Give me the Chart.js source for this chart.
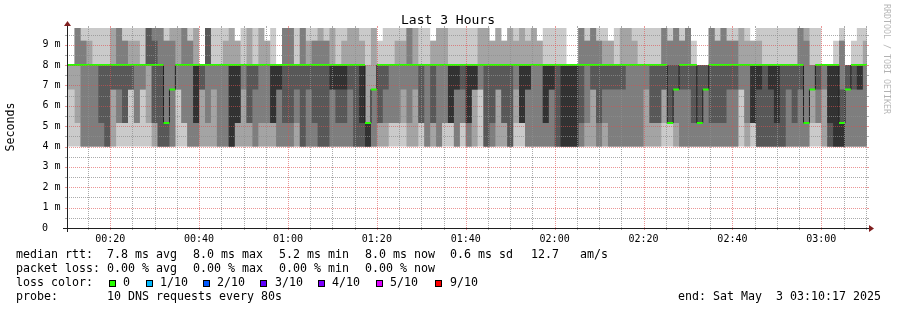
<!DOCTYPE html>
<html>
<head>
<meta charset="utf-8">
<script src="https://cdn.jsdelivr.net/npm/chart.js@4.4.1/dist/chart.umd.min.js"></script>
<style>
  html, body { margin: 0; padding: 0; background: #fff; }
  canvas { display: block; }
</style>
</head>
<body>
<canvas id="smoke" width="897" height="310"></canvas>
<script>
// Ping-Werte, die der DNS-Probe geliefert hat (ms)
const pingLevels = [4.0, 5.15, 6.8, 8.0, 9.2, 9.82];

// pro 80s-Schritt: wie viele der 10 Pings auf welcher Stufe liegen (gleiche Reihenfolge wie pingLevels)
const pingCounts = [
    [1,0,1,8,0,0], [1,0,1,8,0,0], [1,1,0,5,0,3], [3,0,0,4,2,1], [3,0,0,5,1,1],
    [3,0,0,6,0,1], [3,1,0,5,0,1], [4,0,0,5,0,1], [2,0,2,4,0,2], [1,2,1,3,0,3],
    [1,3,0,3,2,1], [1,0,3,4,1,1], [1,2,0,5,1,1], [1,0,2,6,0,1], [1,1,0,4,0,4],
    [2,2,0,2,1,3], [4,0,0,3,0,3], [4,3,0,0,2,1], [3,0,4,0,1,2], [1,0,2,5,0,2],
    [1,2,0,4,0,3], [3,0,0,4,2,1], [3,2,0,3,0,2], [2,0,2,6,0,0], [2,1,0,3,0,4],
    [2,0,1,6,0,1], [3,0,0,6,0,1], [3,0,0,5,1,1], [5,0,0,3,0,2], [2,3,0,3,2,0],
    [2,0,1,6,0,1], [2,2,0,4,0,2], [3,0,1,5,0,1], [2,1,0,5,0,2], [2,1,0,5,2,0],
    [2,3,0,4,0,1], [3,0,2,5,0,0], [3,1,0,3,0,3], [3,1,0,3,0,3], [2,1,1,5,0,1],
    [4,0,0,3,0,3], [3,0,1,4,1,1], [3,1,0,3,2,1], [4,0,0,3,1,2], [4,0,0,3,2,1],
    [3,0,2,3,0,2], [3,1,1,4,0,1], [3,1,1,3,1,1], [3,0,1,4,0,2], [4,0,0,4,0,2],
    [4,1,0,3,1,1], [5,3,0,1,0,1], [3,0,5,0,0,2], [2,2,0,5,1,0], [2,1,1,5,0,1],
    [1,2,0,6,0,1], [1,2,0,5,1,1], [1,1,1,5,1,1], [2,1,0,4,0,3], [2,0,1,5,0,2],
    [1,3,0,5,0,1], [3,0,0,6,0,1], [2,2,0,4,2,0], [3,0,0,5,0,2], [1,2,0,5,0,2],
    [1,4,0,4,0,1], [3,0,2,4,0,1], [1,2,1,5,0,1], [3,2,0,4,0,1], [2,0,3,4,0,1],
    [1,0,2,5,0,2], [4,0,0,4,0,2], [3,1,0,4,2,0], [2,0,2,4,0,2], [2,2,0,4,2,0],
    [4,0,0,4,0,2], [1,1,1,5,1,1], [1,4,0,3,0,2], [3,0,2,3,1,1], [3,0,0,5,0,2],
    [3,0,0,5,2,0], [3,2,0,4,0,1], [3,0,2,4,0,1], [4,0,0,5,0,1], [5,0,0,4,0,1],
    [5,0,0,5,0,0], [5,0,0,5,0,0], [3,1,0,3,0,3], [2,1,0,4,2,1], [2,0,2,3,0,3],
    [3,1,0,3,2,1], [2,1,1,4,1,1], [3,0,1,4,2,0], [3,0,1,5,0,1], [3,0,1,4,0,2],
    [3,0,0,5,0,2], [3,0,0,5,1,1], [3,0,0,6,0,1], [2,0,1,6,0,1], [2,2,0,5,0,1],
    [2,2,0,5,0,1], [1,1,2,3,0,3], [1,5,0,1,2,1], [2,1,3,1,0,3], [3,0,1,3,2,1],
    [3,0,1,3,0,3], [3,1,0,5,1,0], [3,3,0,4,0,0], [3,0,3,4,0,0], [3,1,0,3,0,3],
    [3,1,0,3,2,1], [3,1,0,3,0,3], [3,0,1,3,2,1], [3,0,1,3,2,1], [1,0,2,5,0,2],
    [2,1,0,5,1,1], [1,4,0,3,2,0], [4,0,1,3,1,1], [4,0,0,5,0,1], [4,0,1,4,0,1],
    [4,1,0,4,0,1], [4,0,0,5,0,1], [3,0,1,5,0,1], [3,1,0,5,0,1], [3,0,1,3,0,3],
    [3,4,0,0,1,2], [1,1,5,2,0,1], [1,2,1,5,0,1], [2,0,1,7,0,0], [4,1,0,5,0,0],
    [5,0,0,4,1,0], [5,1,1,0,2,1], [3,0,3,4,0,0], [3,0,1,5,1,0], [3,0,2,4,0,1],
    [3,0,0,5,1,1]
];

// Median pro Schritt (ms)
const medianMs = [
    8, 8, 8, 8, 8, 8, 8, 8, 8, 8,
    8, 8, 8, 8, 8, 8, 8, 5.15, 6.8, 8,
    8, 8, 8, 8, 8, 8, 8, 8, 8, 8,
    8, 8, 8, 8, 8, 8, 8, 8, 8, 8,
    8, 8, 8, 8, 8, 8, 8, 8, 8, 8,
    8, 5.15, 6.8, 8, 8, 8, 8, 8, 8, 8,
    8, 8, 8, 8, 8, 8, 8, 8, 8, 8,
    8, 8, 8, 8, 8, 8, 8, 8, 8, 8,
    8, 8, 8, 8, 8, 8, 8, 8, 8, 8,
    8, 8, 8, 8, 8, 8, 8, 8, 8, 8,
    8, 8, 5.15, 6.8, 8, 8, 8, 5.15, 6.8, 8,
    8, 8, 8, 8, 8, 8, 8, 8, 8, 8,
    8, 8, 8, 8, 8, 5.15, 6.8, 8, 8, 8,
    8, 5.15, 6.8, 8, 8, 8
];

// Zeitachse in Sekunden seit Mitternacht (00:10:17 bis 03:10:17)
const startSec = 617;
const endSec = 11417;
const stepSec = 80;
const firstStepEnd = 640;
const yMaxMs = 9.82;

const xLabelTimes = [1200, 2400, 3600, 4800, 6000, 7200, 8400, 9600, 10800];
const xLabels = ['00:20', '00:40', '01:00', '01:20', '01:40', '02:00', '02:20', '02:40', '03:00'];
const yLabelValues = [0, 1, 2, 3, 4, 5, 6, 7, 8, 9];
const yLabels = ['0', '1 m', '2 m', '3 m', '4 m', '5 m', '6 m', '7 m', '8 m', '9 m'];

const lossLabels = ['0', '1/10', '2/10', '3/10', '4/10', '5/10', '9/10'];
const lossColors = ['#26ff00', '#00b8ff', '#0059ff', '#5e00ff', '#7e00ff', '#dd00ff', '#ff0000'];

const rttStats = ['7.8 ms avg', '8.0 ms max', '5.2 ms min', '8.0 ms now', '0.6 ms sd', '12.7   am/s'];
const lossStats = ['0.00 % avg', '0.00 % max', '0.00 % min', '0.00 % now'];

const shades = ['#cacaca', '#a4a4a4', '#7e7e7e', '#585858', '#323232'];
const mono = '"DejaVu Sans Mono", monospace';

// Sortierte Pings je Schritt aufbauen
const stepEnds = pingCounts.map((_, i) => firstStepEnd + i * stepSec);
const sortedPings = pingCounts.map(counts => {
    const row = [];
    counts.forEach((n, lvl) => {
        for (let q = 0; q < n; q++) row.push(pingLevels[lvl]);
    });
    return row;
});

// RRD-Wert gilt für (ende-80s, ende] -> Punkt am Schrittanfang, Stufe "before"
function steppedPoints(values) {
    const pts = values.map((v, i) => ({ x: stepEnds[i] - stepSec, y: v }));
    pts.push({ x: stepEnds[stepEnds.length - 1], y: values[values.length - 1] });
    return pts;
}

const datasets = [];
for (let j = 0; j < 10; j++) {
    const isBand = j < 5;
    datasets.push({
        data: steppedPoints(sortedPings.map(r => r[j])),
        stepped: 'before',
        borderWidth: 0,
        pointRadius: 0,
        fill: isBand ? 9 - j : false,
        backgroundColor: isBand ? shades[j] : 'transparent',
        order: isBand ? 20 - j : 30
    });
}

// Median: dunkle Linie (inkl. Sprünge) + grüner Streifen (Verlust 0)
const swidth = yMaxMs / 200;
datasets.push({
    data: steppedPoints(medianMs),
    stepped: 'before', borderColor: '#202020', borderWidth: 1, pointRadius: 0, fill: false, order: 3
});
datasets.push({
    data: steppedPoints(medianMs.map(v => v - swidth)),
    stepped: 'before', borderWidth: 0, pointRadius: 0, fill: false, order: 4
});
datasets.push({
    data: steppedPoints(medianMs.map(v => v + swidth)),
    stepped: 'before', borderWidth: 0, pointRadius: 0, fill: 11, backgroundColor: lossColors[0], order: 2
});

const rrdDecor = {
    id: 'rrdDecor',
    beforeDraw(chart) {
        const ctx = chart.ctx;
        ctx.save();
        ctx.fillStyle = '#fff';
        ctx.fillRect(0, 0, chart.width, chart.height);
        ctx.restore();
    },
    afterDatasetsDraw(chart) {
        const ctx = chart.ctx;
        const xs = chart.scales.x, ys = chart.scales.y;
        const a = chart.chartArea;
        const x0 = a.left, x1 = a.right, y0 = a.bottom, y1 = a.top;
        const minor = 'rgba(143,143,143,0.75)';
        const major = 'rgba(222,79,79,0.6)';
        ctx.save();
        ctx.lineWidth = 1;

        // horizontale Gitterlinien alle 0.5 ms
        for (let v = 0.5; v < yMaxMs; v += 0.5) {
            const py = Math.round(ys.getPixelForValue(v)) + 0.5;
            const col = Number.isInteger(v) ? major : minor;
            ctx.strokeStyle = col;
            ctx.setLineDash([]);
            ctx.beginPath();
            ctx.moveTo(x0 - 2, py); ctx.lineTo(x0, py);
            ctx.moveTo(x1, py); ctx.lineTo(x1 + 2, py);
            ctx.stroke();
            ctx.setLineDash([1, 1]);
            ctx.beginPath();
            ctx.moveTo(x0, py); ctx.lineTo(x1, py);
            ctx.stroke();
        }
        // vertikale Gitterlinien alle 5 min
        for (let t = 900; t < endSec; t += 300) {
            const px = Math.round(xs.getPixelForValue(t)) + 0.5;
            const col = t % 1200 === 0 ? major : minor;
            ctx.strokeStyle = col;
            ctx.setLineDash([]);
            ctx.beginPath();
            ctx.moveTo(px, y0); ctx.lineTo(px, y0 + 2);
            ctx.moveTo(px, y1 - 2); ctx.lineTo(px, y1);
            ctx.stroke();
            ctx.setLineDash([1, 1]);
            ctx.beginPath();
            ctx.moveTo(px, y0); ctx.lineTo(px, y1);
            ctx.stroke();
        }
        ctx.setLineDash([]);

        // Achsen
        ctx.strokeStyle = '#1f1f1f';
        ctx.beginPath();
        ctx.moveTo(x0 - 4, y0 + 0.5); ctx.lineTo(x1 + 4, y0 + 0.5);
        ctx.moveTo(x0 + 0.5, y0 + 4); ctx.lineTo(x0 + 0.5, y1 - 4);
        ctx.stroke();

        // Pfeile
        ctx.fillStyle = '#801f1f';
        ctx.beginPath();
        ctx.moveTo(x1 + 2, y0 - 3); ctx.lineTo(x1 + 2, y0 + 4); ctx.lineTo(x1 + 7, y0 + 0.5);
        ctx.closePath(); ctx.fill();
        ctx.beginPath();
        ctx.moveTo(x0 - 3, y1 - 2); ctx.lineTo(x0 + 4, y1 - 2); ctx.lineTo(x0 + 0.5, y1 - 7);
        ctx.closePath(); ctx.fill();
        ctx.restore();
    },
    afterDraw(chart) {
        const ctx = chart.ctx;
        const xs = chart.scales.x, ys = chart.scales.y;
        ctx.save();
        ctx.fillStyle = '#000';

        // Titel
        ctx.font = '13px ' + mono;
        ctx.textAlign = 'center';
        ctx.textBaseline = 'alphabetic';
        ctx.fillText('Last 3 Hours', 448, 24);

        // Achsenbeschriftungen
        ctx.font = '10px ' + mono;
        ctx.textAlign = 'center';
        xLabelTimes.forEach((t, i) => {
            ctx.fillText(xLabels[i], xs.getPixelForValue(t), 242);
        });
        ctx.textBaseline = 'middle';
        ctx.textAlign = 'right';
        yLabelValues.forEach((v, i) => {
            const py = ys.getPixelForValue(v);
            ctx.fillText(yLabels[i], v === 0 ? 48 : 60.5, py);
        });

        // vertikaler Titel
        ctx.save();
        ctx.font = '11.6px ' + mono;
        ctx.translate(11, 127);
        ctx.rotate(-Math.PI / 2);
        ctx.textAlign = 'center';
        ctx.textBaseline = 'middle';
        ctx.fillText('Seconds', 0, 0);
        ctx.restore();

        // Wasserzeichen rechts
        ctx.save();
        ctx.font = '8.3px ' + mono;
        ctx.fillStyle = 'rgba(0,0,0,0.3)';
        ctx.translate(886, 4);
        ctx.rotate(Math.PI / 2);
        ctx.textAlign = 'left';
        ctx.textBaseline = 'middle';
        ctx.fillText('RRDTOOL / TOBI OETIKER', 0, 0);
        ctx.restore();

        // Legende
        ctx.font = '11.63px ' + mono;
        ctx.textAlign = 'left';
        ctx.textBaseline = 'alphabetic';
        const statX = [107, 193, 279, 365, 450, 531];
        ctx.fillText('median rtt:', 16, 258);
        rttStats.forEach((s, i) => ctx.fillText(s, statX[i], 258));
        ctx.fillText('packet loss:', 16, 272);
        lossStats.forEach((s, i) => ctx.fillText(s, statX[i], 272));

        ctx.fillText('loss color:', 16, 286);
        const boxX = [109, 146, 203, 260, 318, 376, 435];
        const lblX = [123, 160, 217, 275, 332, 390, 450];
        lossLabels.forEach((s, i) => {
            ctx.fillStyle = lossColors[i];
            ctx.fillRect(boxX[i], 280, 7, 7);
            ctx.strokeStyle = '#000';
            ctx.lineWidth = 1;
            ctx.strokeRect(boxX[i] + 0.5, 280.5, 6, 6);
            ctx.fillStyle = '#000';
            ctx.fillText(s, lblX[i], 286);
        });

        ctx.fillText('probe:', 16, 300);
        ctx.fillText('10 DNS requests every 80s', 107, 300);
        ctx.fillText('end: Sat May  3 03:10:17 2025', 678, 300);
        ctx.restore();
    }
};

new Chart(document.getElementById('smoke').getContext('2d'), {
    type: 'line',
    data: { datasets: datasets },
    options: {
        responsive: false,
        animation: false,
        events: [],
        layout: { padding: { left: 0, right: 30, top: 28, bottom: 0 } },
        plugins: {
            legend: { display: false },
            tooltip: { enabled: false },
            filler: { propagate: false }
        },
        scales: {
            x: {
                type: 'linear', min: startSec, max: endSec,
                ticks: { display: false }, grid: { display: false }, border: { display: false },
                afterFit: s => { s.height = 82; }
            },
            y: {
                type: 'linear', min: 0, max: yMaxMs,
                ticks: { display: false }, grid: { display: false }, border: { display: false },
                afterFit: s => { s.width = 67; }
            }
        }
    },
    plugins: [rrdDecor]
});
</script>
</body>
</html>
